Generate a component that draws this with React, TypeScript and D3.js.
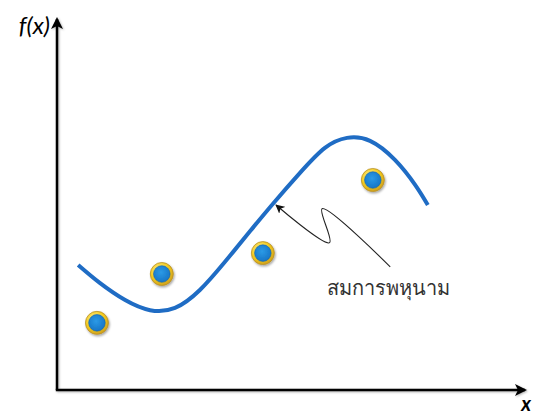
import React from 'react';
import * as d3 from 'd3';

// fitted curve (data units, 0-100 on both axes)
const curveX = [4.5, 9.1, 14.5, 19.8, 25.1, 30.4, 35.7, 41.1, 46.0, 51.7, 57.0, 61.7, 66.6, 71.9, 76.2, 78.9];
const curveY = [33.5, 28.7, 24.1, 21.4, 22.0, 26.8, 34.3, 42.6, 50.0, 58.2, 64.9, 67.6, 66.8, 61.7, 55.0, 49.6];

// data points
const pointX = [8.5, 22.3, 43.8, 67.2];
const pointY = [18.0, 31.1, 36.7, 56.3];

// zig-zag pointer to the curve: tip, bend, bend, tail
const pointerX = [46.6, 58.0, 56.4, 70.9];
const pointerY = [49.6, 39.5, 48.6, 33.0];

const labelText = 'สมการพหุนาม';
const yAxisTitle = 'f(x)';
const xAxisTitle = 'x';

const W = 537, H = 412;

export default function App() {
    const x = d3.scaleLinear().domain([0, 100]).range([57, 527]);
    const y = d3.scaleLinear().domain([0, 100]).range([390, 17]);

    const curve = curveX.map((v, i) => [x(v), y(curveY[i])] as [number, number]);
    const lineGen = d3.line().curve(d3.curveNatural);

    const ptr = pointerX.map((v, i) => [x(v), y(pointerY[i])] as [number, number]);
    const ptrGen = d3.line().curve(d3.curveCatmullRom.alpha(0.5));

    const x0 = x(0), y0 = y(0), xEnd = x(100), yEnd = y(100);

    return (
        <svg width={W} height={H} style={{ position: 'absolute', left: 0, top: 0, background: '#fff' }}>
            <defs>
                <filter id="shadow" x="-30%" y="-30%" width="160%" height="160%">
                    <feDropShadow dx="1" dy="1.5" stdDeviation="1.2" floodColor="#000" floodOpacity="0.35" />
                </filter>
                <filter id="axshadow" x="-5%" y="-5%" width="110%" height="110%">
                    <feDropShadow dx="1" dy="1" stdDeviation="0.8" floodColor="#000" floodOpacity="0.3" />
                </filter>
                <radialGradient id="gold" cx="40%" cy="35%" r="70%">
                    <stop offset="0%" stopColor="#fff5a0" />
                    <stop offset="60%" stopColor="#f2c81a" />
                    <stop offset="100%" stopColor="#c99a1c" />
                </radialGradient>
                <radialGradient id="blue" cx="45%" cy="40%" r="65%">
                    <stop offset="0%" stopColor="#2b9ae6" />
                    <stop offset="100%" stopColor="#1572c4" />
                </radialGradient>
                <marker id="tri" viewBox="0 0 12 12" refX="10" refY="6" markerWidth="12" markerHeight="12"
                    markerUnits="userSpaceOnUse" orient="auto">
                    <path d="M0,0 L12,6 L0,12 L3,6 Z" fill="#000" />
                </marker>
                <marker id="small" viewBox="0 0 10 10" refX="9" refY="5" markerWidth="9" markerHeight="9"
                    markerUnits="userSpaceOnUse" orient="auto-start-reverse">
                    <path d="M0,0 L10,5 L0,10 L2.5,5 Z" fill="#111" />
                </marker>
            </defs>

            {/* axes */}
            <g filter="url(#axshadow)">
                <path d={`M${x0},${y0} L${x0},${yEnd + 2}`} stroke="#000" strokeWidth={2.5} fill="none" markerEnd="url(#tri)" />
                <path d={`M${x0 - 1.2},${y0} L${xEnd - 2},${y0}`} stroke="#000" strokeWidth={2.5} fill="none" markerEnd="url(#tri)" />
            </g>
            <text x={x0 - 7} y={yEnd + 17} textAnchor="end" fontFamily="Lato, 'Open Sans', sans-serif"
                fontStyle="italic" fontSize={24} fill="#000">{yAxisTitle}</text>
            <text x={xEnd - 1} y={y0 + 21} textAnchor="middle" fontFamily="Lato, 'Open Sans', sans-serif"
                fontStyle="italic" fontWeight="bold" fontSize={20} fill="#000">{xAxisTitle}</text>

            {/* fitted curve */}
            <path d={lineGen(curve) || ''} fill="none" stroke="#1f6cc4" strokeWidth={4} strokeLinecap="butt" />

            {/* data points */}
            {pointX.map((v, i) => (
                <g key={i} filter="url(#shadow)">
                    <circle cx={x(v)} cy={y(pointY[i])} r={11.5} fill="url(#gold)" stroke="#b8902a" strokeWidth={0.8} />
                    <circle cx={x(v)} cy={y(pointY[i])} r={8.3} fill="url(#blue)" stroke="#1461a8" strokeWidth={0.6} />
                </g>
            ))}

            {/* pointer + label */}
            <path d={ptrGen(ptr) || ''} fill="none" stroke="#222" strokeWidth={1.1} markerStart="url(#small)" />
            <text x={x(57.5)} y={y(25.5)} fontFamily="'Noto Sans', 'DejaVu Sans', sans-serif" fontSize={20}
                fill="#333">{labelText}</text>
        </svg>
    );
}
